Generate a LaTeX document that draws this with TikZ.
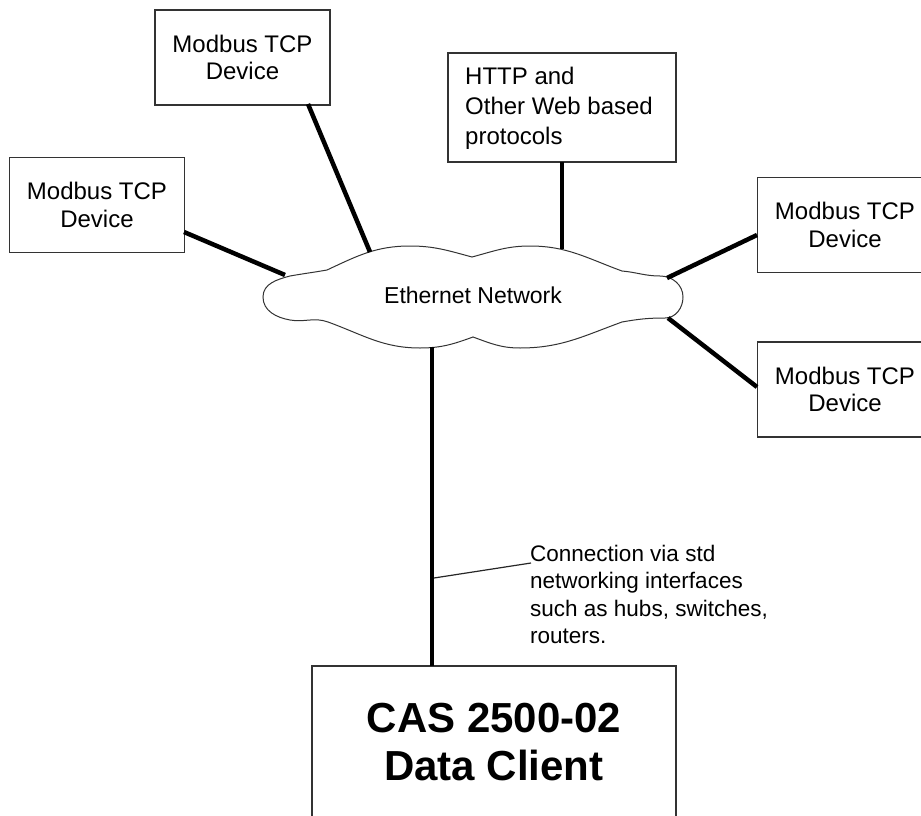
\documentclass[tikz,border=0pt]{standalone}
\usepackage{fontspec}
\setmainfont{Liberation Sans}
\begin{document}
\begin{tikzpicture}[x=1pt,y=-1pt,
  devbox/.style={draw=black!80, line width=1.4pt, inner sep=0pt, minimum width=175pt, minimum height=95pt, align=center, font=\fontsize{24}{27.5}\selectfont},
  link/.style={line width=4.5pt, black},
  cloudline/.style={draw=black!80, line width=1pt}]
\useasboundingbox (0,0) rectangle (921,816);
\clip (0,0) rectangle (921,816);
% boxes
\node[devbox] (dtop) at (242.5,57.5) {Modbus TCP\\Device};
\node[devbox] (dleft) at (97,205) {Modbus TCP\\Device};
\node[devbox, minimum width=228pt, minimum height=109pt] (http) at (562,107.5) {};
\node[anchor=west, align=left, font=\fontsize{24}{30}\selectfont, inner sep=0pt] (httptxt) at (465,108) {HTTP and\\Other Web based\\protocols};
\node[devbox] (dru) at (845,225) {Modbus TCP\\Device};
\node[devbox] (drl) at (845,389.5) {Modbus TCP\\Device};
\node[draw=black!80, line width=1.4pt, minimum width=364pt, minimum height=180pt, inner sep=0pt] (client) at (494,756) {};
\node[font=\bfseries\fontsize{42}{48}\selectfont, align=center, inner sep=0pt] (clienttxt) at (494,742) {CAS 2500-02\\Data Client};
% cloud
\draw[cloudline, fill=white] (263,297) to[out=90,in=195] (290,276)
  to[out=10,in=190] (327,270)
  to[out=25,in=180] (410,246)
  to[out=0,in=165] (472,257)
  to[out=15,in=180] (530,246)
  to[out=0,in=160] (622,271)
  to[out=-5,in=180] (660,276)
  to[out=0,in=90] (683,297)
  to[out=-90,in=0] (665,318)
  to[out=180,in=10] (622,322)
  to[out=-160,in=0] (520,348)
  to[out=180,in=-20] (473,337)
  to[out=-160,in=0] (420,348)
  to[out=180,in=-20] (328,322)
  to[out=160,in=-10] (290,320)
  to[out=170,in=-90] (263,297) -- cycle;
\node[font=\fontsize{23}{26}\selectfont, inner sep=0pt] (net) at (473,295) {Ethernet Network};
% connection points
\coordinate (c1) at (370,252);
\coordinate (c2) at (285,275);
\coordinate (c3) at (562,249);
\coordinate (c4) at (667,278);
\coordinate (c5) at (668,318);
\coordinate (c6) at (432,347);
\coordinate (e1) at (308,104);
\coordinate (e2) at (184,232);
\coordinate (e3) at (562,162);
\coordinate (e4) at (757,235);
\coordinate (e5) at (757,387);
\coordinate (e6) at (432,666);
\draw[link] (e1) -- (c1);
\draw[link] (e2) -- (c2);
\draw[link] (e3) -- (c3);
\draw[link] (e4) -- (c4);
\draw[link] (e5) -- (c5);
\draw[link] (c6) -- (e6);
% annotation
\coordinate (a1) at (434,578);
\node[anchor=north west, align=left, inner sep=0pt, font=\fontsize{22.5}{27.3}\selectfont] (note) at (530,545) {Connection via std\\networking interfaces\\such as hubs, switches,\\routers.};
\coordinate (a2) at (531,563);
\draw[line width=1.2pt, black!85] (a1) -- (a2);
\end{tikzpicture}
\end{document}
